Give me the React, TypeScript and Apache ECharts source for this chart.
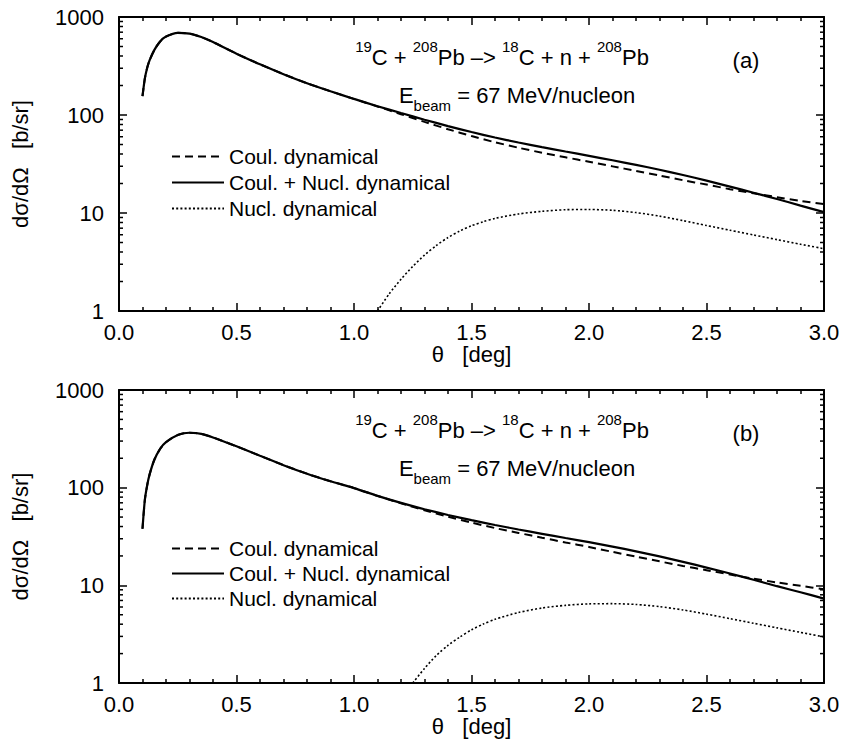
import React, { useEffect, useRef } from "react";
import * as echarts from "echarts";

const FONT = "'Liberation Sans', Arial, Helvetica, sans-serif";

// ---------- data ----------
const xA = [0.10, 0.11, 0.12, 0.13, 0.15, 0.175, 0.20, 0.25, 0.30, 0.35, 0.40, 0.50, 0.60, 0.70, 0.80, 0.90, 1.00, 1.10, 1.20, 1.30, 1.40, 1.50, 1.60, 1.70, 1.80, 1.90, 2.00, 2.10, 2.20, 2.30, 2.40, 2.50, 2.60, 2.70, 2.80, 2.90, 3.00];

// panel (a)
const coulNuclA = [156, 236, 304, 361, 459, 562, 631, 689, 676, 624, 556, 422, 329, 261, 211, 174.6, 145.9, 123, 104.7, 89.5, 77.1, 67.0, 58.9, 52.4, 47.0, 42.4, 38.3, 34.5, 31.0, 27.6, 24.4, 21.4, 18.6, 16.1, 13.9, 11.9, 10.2];
const coulA = [156, 236, 304, 361, 459, 562, 631, 689, 676, 624, 556, 422, 329, 261, 211, 174.6, 145.9, 122.2, 101.9, 85.1, 71.6, 61.0, 52.7, 46.3, 41.2, 37.0, 33.3, 29.9, 26.9, 24.1, 21.6, 19.5, 17.5, 15.9, 14.5, 13.3, 12.3];
const xNuclA = [1.10, 1.15, 1.20, 1.25, 1.30, 1.35, 1.40, 1.45, 1.50, 1.55, 1.60, 1.70, 1.80, 1.90, 2.00, 2.10, 2.20, 2.30, 2.40, 2.50, 2.60, 2.70, 2.80, 2.90, 3.00];
const nuclA = [1.0, 1.50, 2.11, 2.85, 3.72, 4.66, 5.62, 6.55, 7.41, 8.15, 8.81, 9.77, 10.4, 10.8, 10.86, 10.66, 10.1, 9.29, 8.36, 7.46, 6.67, 5.97, 5.35, 4.80, 4.32];

// panel (b)
const coulNuclB = [38, 75, 106, 136, 192, 250, 292, 346, 365, 356, 327, 265, 212, 170, 139, 116.4, 99, 82.4, 69.8, 60.1, 52.5, 46.5, 41.5, 37.3, 33.7, 30.5, 27.7, 24.9, 22.3, 19.8, 17.4, 15.2, 13.2, 11.4, 9.8, 8.5, 7.3];
const coulB = [38, 75, 106, 136, 192, 250, 292, 346, 365, 356, 327, 265, 212, 170, 139, 116.4, 99, 82.4, 69.2, 58.6, 50.4, 43.9, 38.6, 34.4, 30.7, 27.5, 24.7, 22.0, 19.7, 17.6, 15.8, 14.3, 12.9, 11.7, 10.7, 9.9, 9.1];
const xNuclB = [1.25, 1.30, 1.35, 1.40, 1.45, 1.50, 1.55, 1.60, 1.70, 1.80, 1.90, 2.00, 2.10, 2.20, 2.30, 2.40, 2.50, 2.60, 2.70, 2.80, 2.90, 3.00];
const nuclB = [1.0, 1.41, 1.91, 2.43, 2.95, 3.51, 4.01, 4.49, 5.27, 5.86, 6.24, 6.46, 6.49, 6.37, 6.05, 5.60, 5.07, 4.56, 4.09, 3.67, 3.30, 2.96];

const logMinorTicks = [2, 3, 4, 5, 6, 7, 8, 9, 20, 30, 40, 50, 60, 70, 80, 90, 200, 300, 400, 500, 600, 700, 800, 900];

const NAME_COUL = "Coul. dynamical";
const NAME_BOTH = "Coul. + Nucl. dynamical";
const NAME_NUCL = "Nucl. dynamical";

const pair = (xs: number[], ys: number[]) => xs.map((x, i) => [x, ys[i]]);

export default function App() {
  const ref = useRef<HTMLDivElement>(null);

  useEffect(() => {
    if (!ref.current) return;
    const chart = echarts.init(ref.current, null, { renderer: "svg" });

    const grids = [
      { left: 119, top: 17, width: 705, height: 294 },
      { left: 119, top: 390, width: 705, height: 293 },
    ];

    const axisLine = { show: true, onZero: false, lineStyle: { color: "#000", width: 2 } };
    const tick = { show: true, inside: true, length: 8, lineStyle: { color: "#000", width: 1.5 } };
    const minor = { show: true, splitNumber: 5, length: 4, lineStyle: { color: "#000", width: 1.5 } };

    const xAxes: any[] = [];
    const yAxes: any[] = [];
    [0, 1].forEach((g) => {
      xAxes.push({
        type: "value",
        gridIndex: g,
        position: "bottom",
        min: 0,
        max: 3,
        interval: 0.5,
        name: "θ   [deg]",
        nameLocation: "middle",
        nameGap: 28,
        nameTextStyle: { fontFamily: FONT, fontSize: 22, color: "#000", verticalAlign: "top" },
        axisLine,
        axisTick: tick,
        minorTick: minor,
        splitLine: { show: false },
        axisLabel: {
          fontFamily: FONT,
          fontSize: 22,
          color: "#000",
          margin: 10,
          formatter: (v: number) => v.toFixed(1),
        },
      });
      xAxes.push({
        type: "value",
        gridIndex: g,
        position: "top",
        min: 0,
        max: 3,
        interval: 0.5,
        axisLine,
        axisTick: tick,
        minorTick: minor,
        splitLine: { show: false },
        axisLabel: { show: false },
      });
      yAxes.push({
        type: "log",
        logBase: 10,
        gridIndex: g,
        position: "left",
        min: 1,
        max: 1000,
        name: "dσ/dΩ   [b/sr]",
        nameLocation: "middle",
        nameRotate: 90,
        nameGap: 88,
        nameTextStyle: { fontFamily: FONT, fontSize: 22, color: "#000" },
        axisLine,
        axisTick: tick,
        minorTick: { show: false },
        splitLine: { show: false },
        axisLabel: {
          fontFamily: FONT,
          fontSize: 22,
          color: "#000",
          margin: 15,
          formatter: (v: number) => String(Math.round(v)),
        },
      });
      yAxes.push({
        type: "log",
        logBase: 10,
        gridIndex: g,
        position: "right",
        min: 1,
        max: 1000,
        axisLine,
        axisTick: tick,
        minorTick: { show: false },
        splitLine: { show: false },
        axisLabel: { show: false },
      });
    });

    const solid = { color: "#000", width: 2.2, type: "solid" };
    const dashed = { color: "#000", width: 2, type: [8, 5] };
    const dotted = { color: "#000", width: 1.6, type: [2, 2.2] };

    const lineSeries = (name: string, data: number[][], g: number, ls: any, z: number) => ({
      type: "line",
      name,
      data,
      xAxisIndex: g * 2,
      yAxisIndex: g * 2,
      showSymbol: false,
      symbol: "none",
      smooth: 0.25,
      lineStyle: ls,
      itemStyle: { color: "#000" },
      z,
      clip: true,
      silent: true,
    });

    const minorTickSeries = (g: number) => ({
      type: "custom",
      xAxisIndex: g * 2,
      yAxisIndex: g * 2,
      silent: true,
      clip: false,
      data: logMinorTicks.map((v) => [0, v]),
      renderItem: (params: any, api: any) => {
        const p = api.coord([0, api.value(1)]);
        const cs = params.coordSys;
        const l = cs.x;
        const r = cs.x + cs.width;
        const st = { stroke: "#000", lineWidth: 1.5 };
        return {
          type: "group",
          children: [
            { type: "line", shape: { x1: l, y1: p[1], x2: l + 4, y2: p[1] }, style: st },
            { type: "line", shape: { x1: r - 4, y1: p[1], x2: r, y2: p[1] }, style: st },
          ],
        };
      },
    });

    const series: any[] = [
      lineSeries(NAME_COUL, pair(xA, coulA), 0, dashed, 3),
      lineSeries(NAME_BOTH, pair(xA, coulNuclA), 0, solid, 4),
      lineSeries(NAME_NUCL, pair(xNuclA, nuclA), 0, dotted, 3),
      lineSeries(NAME_COUL, pair(xA, coulB), 1, dashed, 3),
      lineSeries(NAME_BOTH, pair(xA, coulNuclB), 1, solid, 4),
      lineSeries(NAME_NUCL, pair(xNuclB, nuclB), 1, dotted, 3),
      minorTickSeries(0),
      minorTickSeries(1),
    ];

    const legendCommon = {
      orient: "vertical",
      left: 166,
      itemWidth: 52,
      itemHeight: 14,
      selectedMode: false,
      itemStyle: { opacity: 0 },
      data: [NAME_COUL, NAME_BOTH, NAME_NUCL],
      textStyle: { fontFamily: FONT, fontSize: 21, color: "#000", padding: [0, 0, 0, 0] },
    };

    const rich = {
      n: { fontFamily: FONT, fontSize: 22, lineHeight: 36, fill: "#000" },
      s: { fontFamily: FONT, fontSize: 15, lineHeight: 15, verticalAlign: "top", fill: "#000" },
      b: { fontFamily: FONT, fontSize: 15, lineHeight: 12, verticalAlign: "bottom", fill: "#000" },
    };

    const annotations = (dy: number, tag: string) => [
      {
        type: "text",
        x: 502,
        y: 57 + dy,
        style: {
          text: "{s|19}{n|C + }{s|208}{n|Pb –> }{s|18}{n|C + n + }{s|208}{n|Pb}",
          rich,
          align: "center",
          verticalAlign: "middle",
        },
      },
      {
        type: "text",
        x: 746,
        y: 60 + dy,
        style: {
          text: tag,
          font: `22px ${FONT}`,
          fill: "#000",
          align: "center",
          verticalAlign: "middle",
        },
      },
      {
        type: "text",
        x: 517,
        y: 95 + dy,
        style: {
          text: "{n|E}{b|beam}{n| = 67 MeV/nucleon}",
          rich,
          align: "center",
          verticalAlign: "middle",
        },
      },
    ];

    chart.setOption({
      animation: false,
      backgroundColor: "#fff",
      textStyle: { fontFamily: FONT },
      grid: grids,
      xAxis: xAxes,
      yAxis: yAxes,
      legend: [
        { ...legendCommon, top: 141, itemGap: 5 },
        { ...legendCommon, top: 533, itemGap: 4 },
      ],
      graphic: [...annotations(0, "(a)"), ...annotations(373, "(b)")],
      series,
    });

    return () => chart.dispose();
  }, []);

  return (
    <div
      ref={ref}
      style={{ position: "fixed", left: 0, top: 0, width: 844, height: 747, background: "#fff" }}
    />
  );
}
